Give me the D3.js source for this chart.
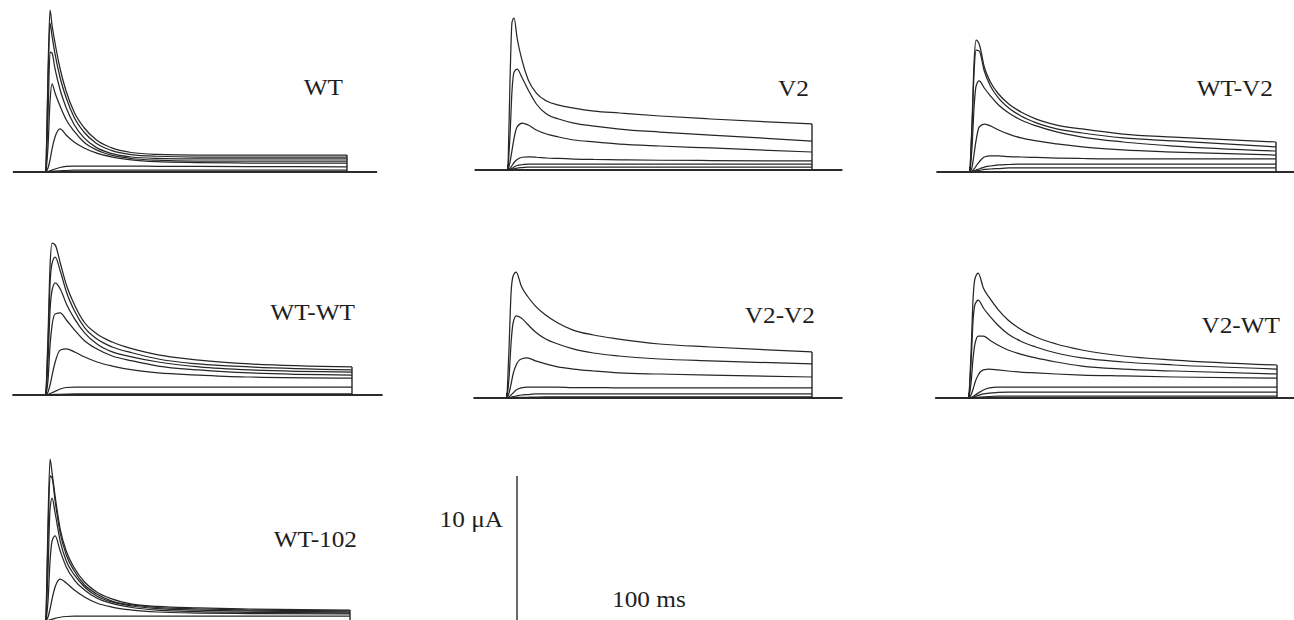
<!DOCTYPE html>
<html>
<head>
<meta charset="utf-8">
<script src="https://cdn.jsdelivr.net/npm/d3@7"></script>
<style>
  body { margin: 0; background: #fff; }
  text { font-family: "Liberation Serif", "Times New Roman", serif; fill: #1e1e1e; }
</style>
</head>
<body>
<svg id="chart" width="1294" height="620"></svg>
<script>
// sample times during the voltage step, ms after onset
const times = [0, 2, 4, 6, 9, 14, 20, 28, 38, 50, 65, 85, 110, 150, 200, 300];
const pulseMs = 300, preMs = 33, postMs = 30;

// currents in uA, one row per test potential (largest first)
const wtTraces = [
  [0, 6.67, 10.8, 9.8, 8.6, 6.9, 5.4, 4.0, 2.95, 2.15, 1.62, 1.3, 1.18, 1.13, 1.13, 1.13],
  [0, 6.0, 9.93, 9.07, 7.87, 6.3, 4.97, 3.65, 2.65, 1.92, 1.44, 1.16, 1.05, 1.0, 1.0, 1.0],
  [0, 3.67, 8.0, 7.93, 6.87, 5.5, 4.3, 3.17, 2.27, 1.64, 1.24, 1.0, 0.91, 0.87, 0.87, 0.87],
  [0, 1.67, 4.67, 5.87, 5.27, 4.4, 3.5, 2.72, 1.98, 1.48, 1.12, 0.9, 0.79, 0.73, 0.73, 0.73],
  [0, 0.27, 0.8, 1.53, 2.33, 2.87, 2.47, 2.0, 1.6, 1.27, 1.01, 0.81, 0.69, 0.63, 0.6, 0.6],
  [0, 0.03, 0.07, 0.12, 0.2, 0.3, 0.37, 0.4, 0.4, 0.4, 0.4, 0.4, 0.38, 0.37, 0.36, 0.35],
  [0, 0.01, 0.02, 0.04, 0.06, 0.08, 0.1, 0.12, 0.13, 0.13, 0.13, 0.13, 0.13, 0.13, 0.13, 0.13]
];
const v2Traces = [
  [0, 6.0, 9.87, 10.13, 8.8, 7.27, 6.0, 5.13, 4.6, 4.33, 4.13, 3.93, 3.8, 3.6, 3.4, 3.07],
  [0, 2.33, 5.33, 6.53, 6.73, 6.13, 5.33, 4.4, 3.73, 3.4, 3.13, 2.93, 2.73, 2.53, 2.33, 1.93],
  [0, 0.53, 1.33, 2.13, 2.87, 3.13, 3.0, 2.67, 2.4, 2.2, 2.0, 1.87, 1.73, 1.6, 1.47, 1.2],
  [0, 0.1, 0.3, 0.5, 0.7, 0.85, 0.87, 0.85, 0.8, 0.77, 0.73, 0.7, 0.68, 0.65, 0.63, 0.6],
  [0, 0.05, 0.1, 0.2, 0.3, 0.35, 0.4, 0.4, 0.4, 0.4, 0.4, 0.4, 0.4, 0.4, 0.4, 0.4],
  [0, 0.02, 0.05, 0.08, 0.12, 0.16, 0.2, 0.2, 0.2, 0.2, 0.2, 0.2, 0.2, 0.2, 0.2, 0.2]
];
const wtV2Traces = [
  [0, 3.33, 7.33, 8.8, 8.53, 7.0, 6.0, 5.2, 4.53, 4.0, 3.53, 3.13, 2.87, 2.53, 2.33, 2.0],
  [0, 3.0, 6.67, 8.13, 8.07, 6.73, 5.73, 4.93, 4.27, 3.73, 3.27, 2.87, 2.6, 2.27, 2.07, 1.67],
  [0, 1.67, 4.33, 5.73, 6.07, 5.6, 5.07, 4.47, 3.93, 3.47, 3.07, 2.67, 2.33, 2.0, 1.73, 1.4],
  [0, 0.33, 1.2, 2.13, 3.0, 3.2, 3.07, 2.8, 2.53, 2.27, 2.07, 1.87, 1.67, 1.47, 1.33, 1.13],
  [0, 0.07, 0.2, 0.4, 0.67, 1.0, 1.07, 1.07, 1.03, 1.0, 0.97, 0.93, 0.9, 0.87, 0.87, 0.87],
  [0, 0.03, 0.07, 0.13, 0.2, 0.33, 0.4, 0.47, 0.5, 0.53, 0.53, 0.53, 0.53, 0.53, 0.53, 0.53],
  [0, 0.02, 0.04, 0.07, 0.1, 0.17, 0.2, 0.23, 0.27, 0.27, 0.27, 0.27, 0.27, 0.27, 0.27, 0.27]
];
const wtWtTraces = [
  [0, 4.0, 8.67, 10.13, 10.0, 8.8, 7.33, 6.0, 4.8, 4.07, 3.53, 3.07, 2.67, 2.33, 2.07, 1.87],
  [0, 3.33, 7.47, 8.8, 9.2, 8.27, 6.87, 5.6, 4.47, 3.73, 3.2, 2.8, 2.4, 2.07, 1.87, 1.67],
  [0, 2.33, 5.67, 7.0, 7.47, 7.07, 6.07, 5.07, 4.13, 3.4, 2.87, 2.53, 2.2, 1.87, 1.67, 1.53],
  [0, 1.0, 3.33, 4.67, 5.4, 5.47, 5.0, 4.33, 3.6, 3.07, 2.6, 2.27, 1.93, 1.67, 1.47, 1.33],
  [0, 0.2, 0.67, 1.33, 2.2, 3.0, 3.07, 2.87, 2.53, 2.2, 1.93, 1.67, 1.47, 1.33, 1.2, 1.13],
  [0, 0.03, 0.1, 0.15, 0.25, 0.4, 0.5, 0.53, 0.53, 0.53, 0.53, 0.53, 0.53, 0.53, 0.53, 0.53],
  [0, 0, 0.02, 0.03, 0.04, 0.05, 0.06, 0.07, 0.07, 0.07, 0.07, 0.07, 0.07, 0.07, 0.07, 0.07]
];
const v2V2Traces = [
  [0, 3.33, 7.0, 8.13, 8.4, 7.47, 6.8, 6.13, 5.53, 5.0, 4.53, 4.2, 3.93, 3.6, 3.4, 3.07],
  [0, 1.33, 3.67, 5.0, 5.47, 5.33, 4.93, 4.4, 3.93, 3.6, 3.27, 3.0, 2.8, 2.6, 2.47, 2.27],
  [0, 0.33, 0.93, 1.6, 2.2, 2.6, 2.67, 2.47, 2.27, 2.07, 1.93, 1.8, 1.67, 1.6, 1.53, 1.4],
  [0, 0.07, 0.2, 0.33, 0.53, 0.67, 0.73, 0.73, 0.73, 0.73, 0.7, 0.7, 0.67, 0.67, 0.67, 0.67],
  [0, 0.02, 0.05, 0.09, 0.13, 0.2, 0.23, 0.27, 0.27, 0.27, 0.27, 0.27, 0.27, 0.27, 0.27, 0.27],
  [0, 0, 0.01, 0.02, 0.03, 0.04, 0.05, 0.06, 0.07, 0.07, 0.07, 0.07, 0.07, 0.07, 0.07, 0.07]
];
const v2WtTraces = [
  [0, 3.0, 6.67, 8.0, 8.33, 7.33, 6.67, 5.93, 5.2, 4.6, 4.07, 3.6, 3.2, 2.8, 2.53, 2.2],
  [0, 2.33, 5.2, 6.27, 6.53, 6.0, 5.47, 4.87, 4.27, 3.8, 3.4, 3.0, 2.67, 2.4, 2.2, 1.93],
  [0, 1.0, 2.67, 3.67, 4.13, 4.13, 3.87, 3.53, 3.2, 2.93, 2.67, 2.4, 2.13, 1.93, 1.8, 1.6],
  [0, 0.2, 0.6, 1.07, 1.53, 1.87, 1.93, 1.87, 1.8, 1.73, 1.67, 1.6, 1.53, 1.47, 1.4, 1.33],
  [0, 0.03, 0.1, 0.2, 0.33, 0.53, 0.67, 0.73, 0.73, 0.73, 0.73, 0.73, 0.73, 0.73, 0.73, 0.73],
  [0, 0.02, 0.05, 0.1, 0.17, 0.27, 0.33, 0.37, 0.4, 0.4, 0.4, 0.4, 0.4, 0.4, 0.4, 0.4],
  [0, 0.01, 0.02, 0.03, 0.05, 0.08, 0.1, 0.12, 0.13, 0.13, 0.13, 0.13, 0.13, 0.13, 0.13, 0.13]
];
const wt102Traces = [
  [0, 6.67, 10.8, 9.87, 8.33, 6.13, 4.67, 3.53, 2.6, 1.93, 1.47, 1.13, 0.97, 0.87, 0.8, 0.73],
  [0, 5.67, 9.67, 9.53, 8.0, 5.87, 4.4, 3.33, 2.4, 1.8, 1.33, 1.07, 0.9, 0.8, 0.73, 0.67],
  [0, 3.33, 7.47, 8.2, 7.2, 5.33, 4.0, 3.07, 2.27, 1.67, 1.27, 1.0, 0.83, 0.73, 0.67, 0.6],
  [0, 1.33, 4.0, 5.33, 5.67, 4.67, 3.6, 2.73, 2.07, 1.53, 1.17, 0.9, 0.73, 0.63, 0.58, 0.53],
  [0, 0.27, 0.8, 1.47, 2.27, 2.8, 2.53, 2.07, 1.6, 1.2, 0.93, 0.73, 0.6, 0.53, 0.5, 0.47],
  [0, 0.03, 0.07, 0.12, 0.18, 0.25, 0.3, 0.33, 0.33, 0.33, 0.33, 0.33, 0.33, 0.33, 0.33, 0.33]
];

const panelNames = ["WT", "V2", "WT-V2", "WT-WT", "V2-V2", "V2-WT", "WT-102"];
const panelTraces = [wtTraces, v2Traces, wtV2Traces, wtWtTraces, v2V2Traces, v2WtTraces, wt102Traces];

// scale bar values
const barCurrent = 10;   // uA
const barTime = 100;     // ms

// layout: step onset / offset x, baseline y, label anchor (right edge)
const panels = [
  { x0: 46,  x1: 347,  base: 172, lx: 343,  ly: 95 },
  { x0: 508, x1: 812,  base: 170, lx: 809,  ly: 96 },
  { x0: 970, x1: 1276, base: 172, lx: 1273, ly: 96 },
  { x0: 46,  x1: 352,  base: 395, lx: 355,  ly: 320 },
  { x0: 507, x1: 812,  base: 398, lx: 815,  ly: 323 },
  { x0: 969, x1: 1277, base: 398, lx: 1280, ly: 333 },
  { x0: 46,  x1: 350,  base: 621, lx: 357,  ly: 547 }
];
const pxPerUA = 15;
const stretch = 1.1;

const svg = d3.select("#chart");
svg.append("rect").attr("width", 1294).attr("height", 620).attr("fill", "#fff");

// stretched serif, closer to the wide book face of the original
function addLabel(str, x, y, anchor) {
  return svg.append("text")
    .attr("font-size", 23)
    .attr("text-anchor", anchor)
    .attr("transform", `translate(${x},${y}) scale(${stretch},1)`)
    .text(str);
}

panels.forEach((p, i) => {
  const x = d3.scaleLinear().domain([0, pulseMs]).range([p.x0, p.x1]);
  const y = d3.scaleLinear().domain([0, 10]).range([p.base, p.base - 10 * pxPerUA]);
  const traces = panelTraces[i];
  const g = svg.append("g");

  // holding baseline before and after the step
  g.append("line")
    .attr("x1", x(-preMs)).attr("x2", x(pulseMs + postMs))
    .attr("y1", y(0)).attr("y2", y(0))
    .attr("stroke", "#2b2b2b").attr("stroke-width", 2.2);

  const line = d3.line()
    .x((d, k) => x(times[k]))
    .y(d => y(d))
    .curve(d3.curveMonotoneX);

  g.selectAll("path.trace")
    .data(traces)
    .enter().append("path")
    .attr("class", "trace")
    .attr("d", line)
    .attr("fill", "none")
    .attr("stroke", "#262626")
    .attr("stroke-width", 1.25);

  // tail current drop at step offset
  const top = d3.max(traces, t => t[t.length - 1]);
  g.append("line")
    .attr("x1", x(pulseMs)).attr("x2", x(pulseMs))
    .attr("y1", y(0)).attr("y2", y(top))
    .attr("stroke", "#262626").attr("stroke-width", 1.4);

  // capacitive artifact at onset
  g.append("line")
    .attr("x1", x(0)).attr("x2", x(0))
    .attr("y1", y(0) + 1).attr("y2", y(0.35))
    .attr("stroke", "#262626").attr("stroke-width", 2);

  addLabel(panelNames[i], p.lx, p.ly, "end");
});

// scale bar
const barX = 517, barBase = 626;
const sy = d3.scaleLinear().domain([0, barCurrent]).range([barBase, barBase - barCurrent * pxPerUA]);
const sx = d3.scaleLinear().domain([0, pulseMs]).range([barX, barX + (panels[0].x1 - panels[0].x0)]);
svg.append("line")
  .attr("x1", barX).attr("x2", barX)
  .attr("y1", sy(0)).attr("y2", sy(barCurrent))
  .attr("stroke", "#2a2a2a").attr("stroke-width", 1.4);
svg.append("line")
  .attr("x1", sx(0)).attr("x2", sx(barTime))
  .attr("y1", sy(0)).attr("y2", sy(0))
  .attr("stroke", "#2a2a2a").attr("stroke-width", 1.4);

addLabel("10 μA", 503, 527, "end");
addLabel("100 ms", 612, 607, "start");
</script>
</body>
</html>
